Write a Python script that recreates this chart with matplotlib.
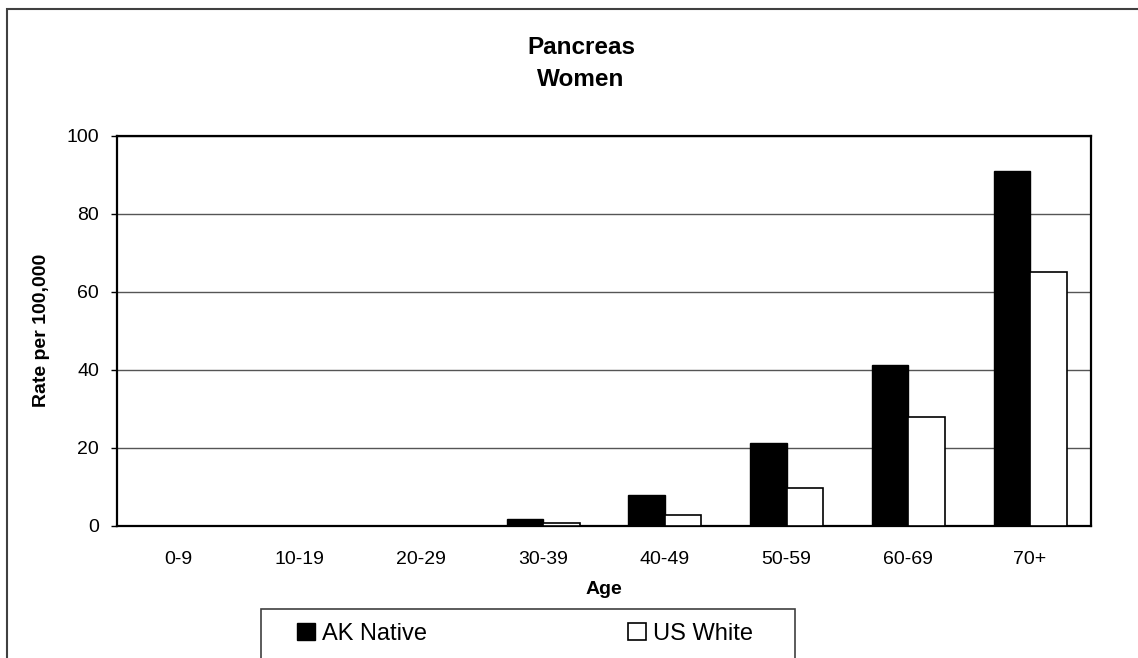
import matplotlib
matplotlib.use("Agg")
import matplotlib.pyplot as plt
from matplotlib.patches import Patch, Rectangle
import numpy as np

plt.rcParams['font.family'] = ['Liberation Sans', 'DejaVu Sans']

categories = ["0-9", "10-19", "20-29", "30-39", "40-49", "50-59", "60-69", "70+"]
ak_native = [0, 0, 0, 1.6, 7.8, 21.1, 41.1, 91.0]
us_white = [0, 0, 0, 0.7, 2.8, 9.7, 27.7, 65.1]
series_names = ["AK Native", "US White"]
title_lines = ["Pancreas", "Women"]
x_label = "Age"
y_label = "Rate per 100,000"

W, H = 1138, 658
fig = plt.figure(figsize=(W / 100, H / 100), dpi=100)
fig.patch.set_facecolor("white")

ax_l, ax_r, ax_t, ax_b = 117, 1091, 135.5, 525.5
ax = fig.add_axes([ax_l / W, 1 - ax_b / H, (ax_r - ax_l) / W, (ax_b - ax_t) / H])

x = np.arange(len(categories))
bw = 0.3
ax.bar(x - bw / 2, ak_native, width=bw, color="black", edgecolor="black", linewidth=1, zorder=3)
ax.bar(x + bw / 2, us_white, width=bw, color="white", edgecolor="black", linewidth=1.2, zorder=3)

ax.set_xlim(-0.5, len(categories) - 0.5)
ax.set_ylim(0, 100)
ax.set_yticks([0, 20, 40, 60, 80, 100])
ax.set_xticks(x)
ax.set_xticklabels(categories)
ax.yaxis.grid(True, color="#555555", linewidth=1, zorder=0)
ax.set_axisbelow(True)
for s in ax.spines.values():
    s.set_linewidth(1.6)
    s.set_color("black")
ax.tick_params(axis="y", length=4, width=1, direction="out", labelsize=14, pad=9)
ax.tick_params(axis="x", length=0, labelsize=14, pad=18)

ax.set_xlabel(x_label, fontsize=14, fontweight="bold", labelpad=10)
ax.set_ylabel(y_label, fontsize=14, fontweight="bold", labelpad=12)

fig.text(581 / W, 1 - 48 / H, title_lines[0], ha="center", va="center", fontsize=17.5, fontweight="bold")
fig.text(581 / W, 1 - 80 / H, title_lines[1], ha="center", va="center", fontsize=17.5, fontweight="bold")

# outer chart border (extends beyond the image bottom/right)
fig.patches.append(Rectangle((7 / W, -0.1), 1.2, 1 - 9.5 / H + 0.1, transform=fig.transFigure,
                             fill=False, edgecolor="#404040", linewidth=1.5, clip_on=False))
# legend box (cut at bottom)
fig.patches.append(Rectangle((261 / W, -0.1), (795 - 261) / W, 1 - 609 / H + 0.1, transform=fig.transFigure,
                             fill=False, edgecolor="#404040", linewidth=1.2, clip_on=False))

handles = [Patch(facecolor="black", edgecolor="black", label=series_names[0]),
           Patch(facecolor="white", edgecolor="black", linewidth=1.2, label=series_names[1])]
fig.legend(handles=handles, loc="center", bbox_to_anchor=(525 / W, 1 - 634 / H), ncol=2,
           frameon=False, fontsize=17, handlelength=0.75, handleheight=0.75, handletextpad=0.3,
           columnspacing=8.5)

fig.savefig("out.png", dpi=100)
